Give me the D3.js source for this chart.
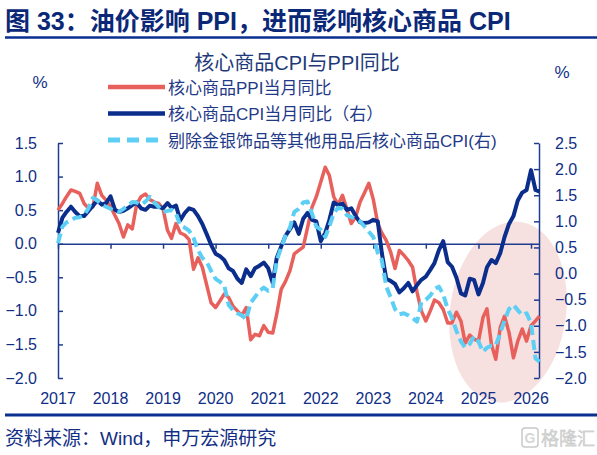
<!DOCTYPE html>
<html>
<head>
<meta charset="utf-8">
<script src="https://cdn.jsdelivr.net/npm/d3@7"></script>
<style>
  body { margin: 0; background: #fff; }
  svg { display: block; font-family: "Liberation Sans", "Noto Sans CJK SC", sans-serif; }
</style>
</head>
<body>
<div id="vis"></div>
<script>
// monthly series, 2017-01 .. 2026-03
var months = d3.timeMonth.range(new Date(2017, 0, 1), new Date(2026, 3, 1));

// 核心商品PPI当月同比 (left axis)
var ppiCore = [
  0.50, 0.60, 0.70, 0.80, 0.78, 0.75, 0.60, 0.53, 0.55, 0.90,
  0.72, 0.65, 0.55, 0.42, 0.30, 0.10, 0.28, 0.22, 0.58, 0.70,
  0.74, 0.66, 0.62, 0.60, 0.52, 0.20, 0.08, 0.30, 0.16, 0.13,
  0.06, -0.38, -0.21, -0.35, -0.62, -0.88, -0.95, -0.85, -0.75, -0.80,
  -0.93, -1.00, -1.07, -0.95, -1.43, -1.35, -1.37, -1.22, -1.32, -1.33,
  -1.05, -0.68, -0.56, -0.40, -0.15, -0.10, -0.05, 0.24, 0.54, 0.70,
  0.92, 1.14, 1.02, 0.70, 0.58, 0.72, 0.52, 0.30, 0.40, 0.62,
  0.76, 0.90, 0.66, 0.30, 0.16, 0.05, -0.12, -0.37, -0.10, -0.17,
  -0.25, -0.35, -0.72, -1.00, -1.15, -1.00, -0.84, -0.88, -0.98, -1.18,
  -1.18, -1.02, -1.15, -1.48, -1.36, -1.42, -1.45, -1.10, -0.97, -1.50,
  -1.72, -1.25, -1.08, -1.32, -1.70, -1.45, -1.27, -1.45, -1.22, -1.15, -1.08
];

// 核心商品CPI当月同比 (right axis)
var cpiCore = [
  0.78, 1.07, 1.18, 1.28, 1.18, 1.10, 1.10, 1.20, 1.30, 1.40,
  1.32, 1.35, 1.48, 1.22, 1.18, 1.20, 1.25, 1.31, 1.36, 1.25,
  1.22, 1.30, 1.28, 1.28, 1.25, 1.35, 1.26, 1.30, 1.02, 1.16,
  1.25, 1.22, 1.10, 0.95, 0.75, 0.55, 0.38, 0.33, 0.26, 0.10,
  0.05, -0.10, -0.18, 0.08, -0.05, 0.10, 0.15, 0.21, 0.10, -0.18,
  0.30, 0.52, 0.72, 0.85, 0.98, 0.76, 1.05, 1.16, 1.03, 1.00,
  0.62, 0.78, 1.02, 1.36, 1.31, 1.34, 1.22, 1.25, 1.10, 0.98,
  0.97, 0.98, 1.03, 1.00, 0.40, -0.10, -0.14, -0.20, -0.36, -0.28,
  -0.18, -0.34, -0.22, -0.12, -0.06, 0.07, 0.20, 0.45, 0.62, 0.22,
  0.13, -0.08, -0.38, -0.42, -0.10, -0.12, -0.40, -0.18, 0.12, 0.26,
  0.20, 0.39, 0.70, 0.95, 1.10, 1.40, 1.55, 1.60, 1.98, 1.60, 1.57
];

// 剔除金银饰品等其他用品后核心商品CPI (right axis)
var cpiExGold = [
  0.58, 0.90, 0.98, 1.02, 1.07, 1.08, 1.12, 1.25, 1.45, 1.40,
  1.32, 1.28, 1.24, 1.20, 1.18, 1.24, 1.30, 1.37, 1.36, 1.32,
  1.38, 1.47, 1.36, 1.28, 1.18, 1.20, 1.22, 1.15, 0.92, 0.88,
  0.82, 0.68, 0.45, 0.30, 0.22, 0.05, -0.10, -0.16, -0.22, -0.60,
  -0.70, -0.76, -0.80, -0.88, -0.56, -0.45, -0.33, -0.27, -0.33, -0.28,
  0.25, 0.50, 0.72, 0.88, 1.18, 1.24, 1.36, 1.38, 1.15, 0.90,
  0.84, 0.70, 0.90, 1.15, 1.26, 1.24, 1.12, 1.08, 1.05, 1.00,
  0.90, 0.80, 0.70, 0.40, 0.26, -0.25, -0.45, -0.68, -0.78, -0.76,
  -0.80, -0.85, -0.92, -0.55, -0.50, -0.42, -0.30, -0.25, -0.40, -0.68,
  -0.85, -1.10, -1.30, -1.42, -1.35, -1.20, -1.30, -1.50, -1.42, -1.38,
  -1.38, -1.14, -0.90, -0.68, -0.60, -0.70, -0.80, -0.76, -0.95, -1.62, -1.69
];

var years = [2017, 2018, 2019, 2020, 2021, 2022, 2023, 2024, 2025, 2026];
var leftTicks = [1.5, 1.0, 0.5, 0.0, -0.5, -1.0, -1.5, -2.0];
var rightTicks = [2.5, 2.0, 1.5, 1.0, 0.5, 0.0, -0.5, -1.0, -1.5, -2.0];

var legendNames = ["核心商品PPI当月同比", "核心商品CPI当月同比（右）", "剔除金银饰品等其他用品后核心商品CPI(右)"];

var navy = "#0f2f86",
    axisColor = "#1f3c8f",
    red = "#e8605b",
    blue = "#0b2d8c",
    cyan = "#5dcff4";

var width = 597, height = 455;

var svg = d3.select("#vis").append("svg")
    .attr("width", width)
    .attr("height", height);

// scales
var x = d3.scaleTime()
    .domain([new Date(2017, 0, 1), new Date(2026, 2, 1)])
    .range([58, 539.5]);

var yL = d3.scaleLinear().domain([-2, 1.5]).range([378, 143]);
var yR = d3.scaleLinear().domain([-2, 2.5]).range([378, 143]);

// header
svg.append("text")
    .attr("x", 5)
    .attr("y", 30)
    .attr("font-size", 25)
    .attr("font-weight", "bold")
    .attr("fill", "#0b2878")
    .text("图 33：油价影响 PPI，进而影响核心商品 CPI");

svg.append("line")
    .attr("x1", 5).attr("x2", 597)
    .attr("y1", 37.5).attr("y2", 37.5)
    .attr("stroke", "#0a2f8f")
    .attr("stroke-width", 2.5);

// highlight ellipse behind everything
svg.append("ellipse")
    .attr("cx", 0).attr("cy", 0)
    .attr("rx", 58).attr("ry", 91)
    .attr("transform", "translate(508,312) rotate(8)")
    .attr("fill", "#f7e0e0");

svg.append("text")
    .attr("x", 297)
    .attr("y", 70)
    .attr("text-anchor", "middle")
    .attr("font-size", 20)
    .attr("fill", "#1e3a78")
    .text("核心商品CPI与PPI同比");

svg.append("text")
    .attr("x", 40).attr("y", 88)
    .attr("text-anchor", "middle")
    .attr("font-size", 17)
    .attr("fill", navy)
    .text("%");

svg.append("text")
    .attr("x", 562).attr("y", 78)
    .attr("text-anchor", "middle")
    .attr("font-size", 17)
    .attr("fill", navy)
    .text("%");

// legend
var legendStyles = [
  {color: red, width: 4.5, dash: null},
  {color: blue, width: 4.5, dash: null},
  {color: cyan, width: 5, dash: "12,7"}
];

var legend = svg.append("g")
  .selectAll("g")
  .data(legendNames)
  .enter().append("g")
    .attr("transform", function(d, i) { return "translate(0," + (87 + i * 26.5) + ")"; });

legend.append("line")
    .attr("x1", 108).attr("x2", 165)
    .attr("stroke", function(d, i) { return legendStyles[i].color; })
    .attr("stroke-width", function(d, i) { return legendStyles[i].width; })
    .attr("stroke-dasharray", function(d, i) { return legendStyles[i].dash; });

legend.append("text")
    .attr("x", 168)
    .attr("y", 6.5)
    .attr("font-size", 17)
    .attr("fill", "#1f3a88")
    .text(function(d) { return d; });

// axes
var gL = svg.append("g")
    .attr("transform", "translate(58,0)")
    .call(d3.axisLeft(yL).tickValues(leftTicks).tickSizeInner(-5).tickSizeOuter(0)
      .tickPadding(21).tickFormat(d3.format(".1f")));

var gR = svg.append("g")
    .attr("transform", "translate(539,0)")
    .call(d3.axisRight(yR).tickValues(rightTicks).tickSizeInner(-5).tickSizeOuter(0)
      .tickPadding(16).tickFormat(d3.format(".1f")));

var gX = svg.append("g")
    .attr("transform", "translate(0," + yL(0) + ")")
    .call(d3.axisBottom(x)
      .tickValues(years.map(function(d) { return new Date(d, 0, 1); }))
      .tickSize(5).tickSizeOuter(0).tickFormat(""));

[gL, gR, gX].forEach(function(g) {
  g.selectAll("path, line").attr("stroke", axisColor).attr("stroke-width", 1.5);
  g.selectAll("text")
    .attr("fill", navy)
    .style("font-size", "16px")
    .style("font-family", "'Liberation Sans', sans-serif");
});

svg.append("g")
  .selectAll("text")
  .data(years)
  .enter().append("text")
    .attr("x", function(d) { return x(new Date(d, 0, 1)); })
    .attr("y", 404)
    .attr("text-anchor", "middle")
    .attr("font-size", 16)
    .attr("fill", navy)
    .text(function(d) { return d; });

// lines
var lineL = d3.line()
    .x(function(d, i) { return x(months[i]); })
    .y(function(d) { return yL(d); });

var lineR = d3.line()
    .x(function(d, i) { return x(months[i]); })
    .y(function(d) { return yR(d); });

svg.append("path")
    .datum(ppiCore)
    .attr("d", lineL)
    .attr("fill", "none")
    .attr("stroke", red)
    .attr("stroke-width", 3.5)
    .attr("stroke-linejoin", "round");

svg.append("path")
    .datum(cpiCore)
    .attr("d", lineR)
    .attr("fill", "none")
    .attr("stroke", blue)
    .attr("stroke-width", 4)
    .attr("stroke-linejoin", "round");

svg.append("path")
    .datum(cpiExGold)
    .attr("d", lineR)
    .attr("fill", "none")
    .attr("stroke", cyan)
    .attr("stroke-width", 4)
    .attr("stroke-dasharray", "10,5")
    .attr("stroke-linejoin", "round");

// footer
svg.append("line")
    .attr("x1", 5).attr("x2", 597)
    .attr("y1", 415).attr("y2", 415)
    .attr("stroke", "#0a2f8f")
    .attr("stroke-width", 3);

svg.append("text")
    .attr("x", 5)
    .attr("y", 445)
    .attr("font-size", 19)
    .attr("fill", "#132f85")
    .text("资料来源：Wind，申万宏源研究");

// watermark
var wm = svg.append("g").attr("fill", "none").attr("stroke", "#c9c9c9");
wm.append("rect")
    .attr("x", 522).attr("y", 428)
    .attr("width", 16).attr("height", 19)
    .attr("rx", 3)
    .attr("stroke-width", 1.5);
wm.append("text")
    .attr("x", 530).attr("y", 443)
    .attr("text-anchor", "middle")
    .attr("font-size", 14)
    .attr("font-weight", "bold")
    .attr("fill", "#d6d6d6")
    .attr("stroke", "none")
    .text("G");
wm.append("text")
    .attr("x", 541).attr("y", 445)
    .attr("font-size", 18)
    .attr("fill", "#d6d6d6")
    .attr("stroke", "#c4c4c4")
    .attr("stroke-width", 0.4)
    .text("格隆汇");
</script>
</body>
</html>
